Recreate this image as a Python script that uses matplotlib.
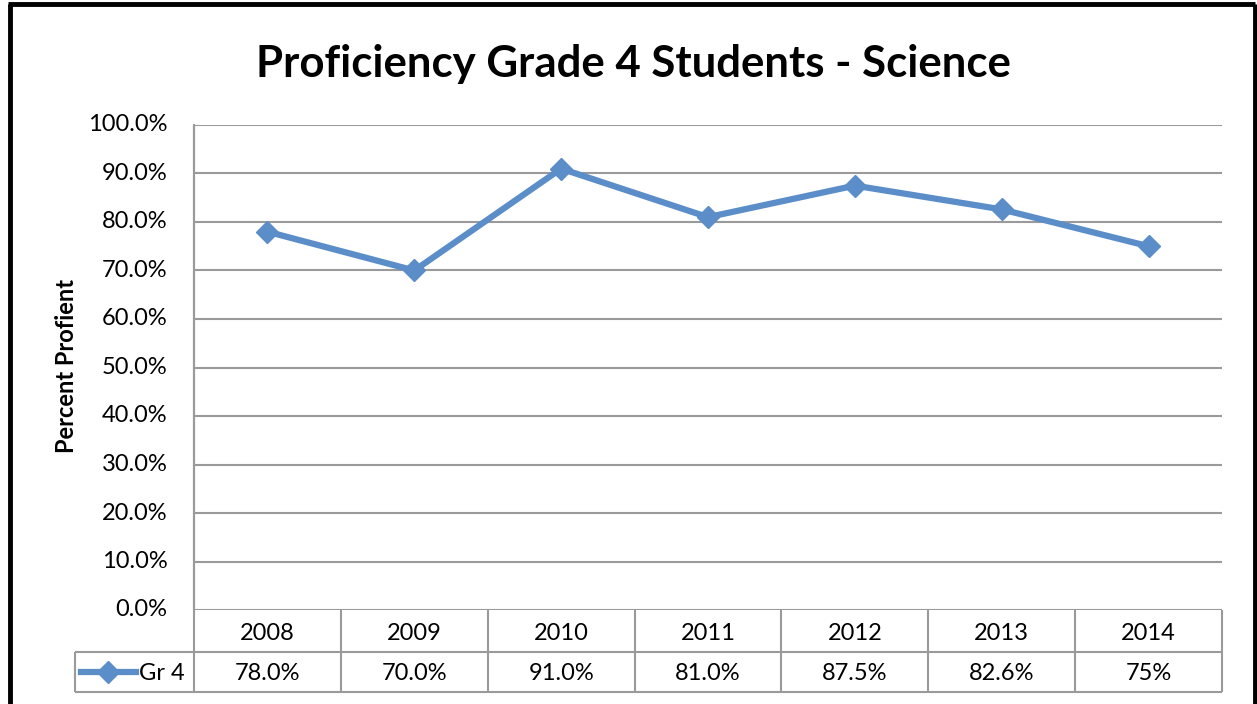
import matplotlib
matplotlib.use("Agg")
import matplotlib.pyplot as plt
from matplotlib.lines import Line2D
from matplotlib.transforms import blended_transform_factory

years = ["2008", "2009", "2010", "2011", "2012", "2013", "2014"]
values = [78.0, 70.0, 91.0, 81.0, 87.5, 82.6, 75.0]
value_labels = ["78.0%", "70.0%", "91.0%", "81.0%", "87.5%", "82.6%", "75%"]
series_name = "Gr 4"
yticks = [0, 10, 20, 30, 40, 50, 60, 70, 80, 90, 100]
title = "Proficiency Grade 4 Students - Science"
ylabel = "Percent Profient"

plt.rcParams['font.family'] = ['Lato', 'DejaVu Sans']

W, H = 1257, 704
fig = plt.figure(figsize=(W / 100, H / 100), dpi=100)

def fx(px):
    return px / W

def fy(py):
    return 1 - py / H

L, R, T, B = 194, 1222, 125, 610
ax = fig.add_axes([fx(L), fy(B), fx(R) - fx(L), fy(T) - fy(B)])

line_color = "#5B8DC8"
grid_color = "#9A9A9A"

x = list(range(len(years)))
ax.plot(x, values, color=line_color, lw=4.5, marker="D", markersize=11,
        markeredgecolor=line_color, markerfacecolor=line_color, zorder=3,
        solid_joinstyle="miter")

ax.set_xlim(-0.5, len(years) - 0.5)
ax.set_ylim(0, 100)
ax.set_yticks(yticks)
ax.set_yticklabels([f"{v:.1f}%" for v in yticks], fontsize=17,
                   va="top")
ax.set_xticks([])
ax.tick_params(axis="y", length=0, pad=19)
for lbl in ax.get_yticklabels():
    lbl.set_verticalalignment("center")
for s in ["top", "right", "bottom"]:
    ax.spines[s].set_visible(False)
ax.spines["left"].set_color(grid_color)
ax.spines["left"].set_linewidth(1.5)
ax.yaxis.grid(True, color=grid_color, lw=1.5)
ax.set_axisbelow(True)

# Table below axes
row1_bot = 652
row2_bot = 692
leg_left = 75

def fline(x0, y0, x1, y1, color=grid_color, lw=1.5):
    fig.add_artist(Line2D([fx(x0), fx(x1)], [fy(y0), fy(y1)],
                          transform=fig.transFigure, color=color, lw=lw,
                          solid_capstyle="butt"))

fline(L, T, L, row2_bot)
fline(leg_left, row1_bot, R, row1_bot)
fline(leg_left, row2_bot, R, row2_bot)
fline(leg_left, row1_bot, leg_left, row2_bot)
cell_w = (R - L) / len(years)
for i in range(1, len(years) + 1):
    xx = L + i * cell_w
    fline(xx, B, xx, row2_bot)

trans = blended_transform_factory(ax.transData, fig.transFigure)
for i, (yr, lab) in enumerate(zip(years, value_labels)):
    ax.text(i, fy((B + row1_bot) / 2 + 2), yr, transform=trans, ha="center",
            va="center", fontsize=17, clip_on=False)
    ax.text(i, fy((row1_bot + row2_bot) / 2 + 2), lab, transform=trans,
            ha="center", va="center", fontsize=17, clip_on=False)

# legend key
ym = fy((row1_bot + row2_bot) / 2)
fig.add_artist(Line2D([fx(81), fx(136)], [ym, ym], transform=fig.transFigure,
                      color=line_color, lw=4.5))
fig.add_artist(Line2D([fx(108)], [ym], transform=fig.transFigure,
                      color=line_color, marker="D", markersize=11))
fig.text(fx(139), fy((row1_bot + row2_bot) / 2 + 2), series_name, ha="left",
         va="center", fontsize=17)

# Title and ylabel
fig.text(fx(633), fy(64), title, ha="center", va="center", fontsize=31.5,
         fontweight="bold")
fig.text(fx(67), fy(366), ylabel, ha="center", va="center", fontsize=17,
         fontweight="bold", rotation=90)

# outer black frame (bottom is cut off in reference)
fline(10, 4, 10, H, color="black", lw=3.5)
fline(8, 4, 1255, 4, color="black", lw=3.5)
fline(1255, 4, 1255, H, color="black", lw=3.5)

fig.savefig("out.png", dpi=100)
